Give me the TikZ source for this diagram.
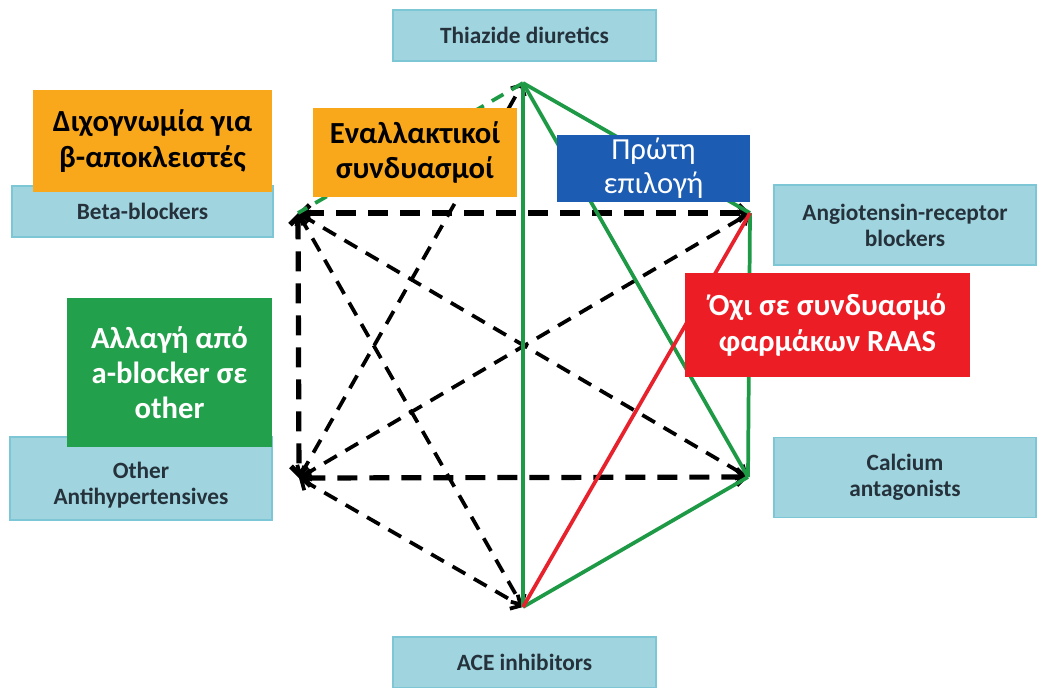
\documentclass[tikz,border=0pt]{standalone}
\usepackage{fontspec}
\setmainfont{Carlito}
\usetikzlibrary{arrows.meta}
\definecolor{lblue}{HTML}{A0D5DF}
\definecolor{lblueb}{HTML}{7CC6D5}
\definecolor{ltext}{HTML}{25323C}
\definecolor{orng}{HTML}{F9A81C}
\definecolor{dblue}{HTML}{1D5CB3}
\definecolor{gbox}{HTML}{22A04B}
\definecolor{rbox}{HTML}{EC1D25}
\definecolor{gline}{HTML}{1E9A46}
\definecolor{rline}{HTML}{E8222C}
\begin{document}
\begin{tikzpicture}[x=0.75pt,y=-0.75pt,
  lbox/.style={draw=lblueb, line width=1pt, fill=lblue, text=ltext, align=center,
    font=\bfseries\fontsize{17.5}{19.5}\selectfont, inner sep=0pt},
  gbx/.style={align=center, inner sep=0pt, font=\bfseries\fontsize{23}{26.5}\selectfont},
  tip/.tip={Straight Barb[length=6pt,width=12pt]},
  blk/.style={black, line width=2.8pt, dash pattern=on 11pt off 7.5pt, tip-tip},
  blkthick/.style={black, line width=3.9pt, dash pattern=on 15pt off 9pt, tip-tip},
  grn/.style={gline, line width=2.8pt},
  grndash/.style={gline, line width=2.8pt, dash pattern=on 10pt off 7pt},
  red/.style={rline, line width=2.8pt}]
\useasboundingbox (0,0) rectangle (1037,687);
\fill[white] (0,0) rectangle (1037,687);

% hexagon vertices
\coordinate (T) at (523,83);
\coordinate (BB) at (298,213);
\coordinate (ARB) at (750,213);
\coordinate (OA) at (299,478);
\coordinate (CA) at (748,477);
\coordinate (ACE) at (523,607);

% black dashed connections
\draw[blk] (OA) -- (T);
\draw[blk] (BB) -- (CA);
\draw[blk] (OA) -- (ARB);
\draw[blk] (BB) -- (ACE);
\draw[blk] (OA) -- (ACE);
\draw[blkthick] (BB) -- (ARB);
\draw[blkthick] (OA) -- (CA);
\draw[blkthick] (BB) -- (OA);

% green and red connections
\draw[grndash] (T) -- (BB);
\draw[grn] (T) -- (ACE);
\draw[grn] (T) -- (ARB);
\draw[grn] (T) -- (CA);
\draw[grn] (ARB) -- (CA);
\draw[grn] (ACE) -- (CA);
\draw[red] (ACE) -- (ARB);

% drug class boxes
\node[lbox, minimum width=263*0.75pt, minimum height=51*0.75pt] (thz) at (524.5,35.5) {Thiazide diuretics};
\node[lbox, minimum width=263*0.75pt, minimum height=51*0.75pt] (acei) at (524.5,662.5) {ACE inhibitors};
\node[lbox, minimum width=261*0.75pt, minimum height=51*0.75pt] (bbl) at (142.5,211.5) {Beta-blockers};
\node[lbox, minimum width=262*0.75pt, minimum height=83*0.75pt] (oth) at (141,478.5) {\\[2pt]Other\\Antihypertensives};
\node[lbox, minimum width=262*0.75pt, minimum height=80*0.75pt] (arbl) at (905,225) {Angiotensin-receptor\\blockers};
\node[lbox, minimum width=262*0.75pt, minimum height=80*0.75pt] (cal) at (905,477.5) {Calcium\\antagonists};

% annotation boxes
\node[gbx, fill=orng, text=black, minimum width=239*0.75pt, minimum height=102*0.75pt] (dis) at (152.5,141) {Διχογνωμία για\\β-αποκλειστές};
\node[gbx, fill=orng, text=black, minimum width=204*0.75pt, minimum height=89*0.75pt] (alt) at (415,152.5) {Εναλλακτικοί\\συνδυασμοί};
\node[gbx, fill=dblue, text=white, minimum width=193*0.75pt, minimum height=67*0.75pt, font=\fontsize{23}{25.5}\selectfont] (first) at (653.5,168.5) {Πρώτη\\επιλογή};
\node[gbx, fill=gbox, text=white, minimum width=205*0.75pt, minimum height=149*0.75pt] (chg) at (169.5,372.5) {Αλλαγή από\\a-blocker σε\\other};
\node[gbx, fill=rbox, text=white, minimum width=285*0.75pt, minimum height=104*0.75pt] (no) at (827.5,325) {Όχι σε συνδυασμό\\φαρμάκων RAAS};
\end{tikzpicture}
\end{document}
